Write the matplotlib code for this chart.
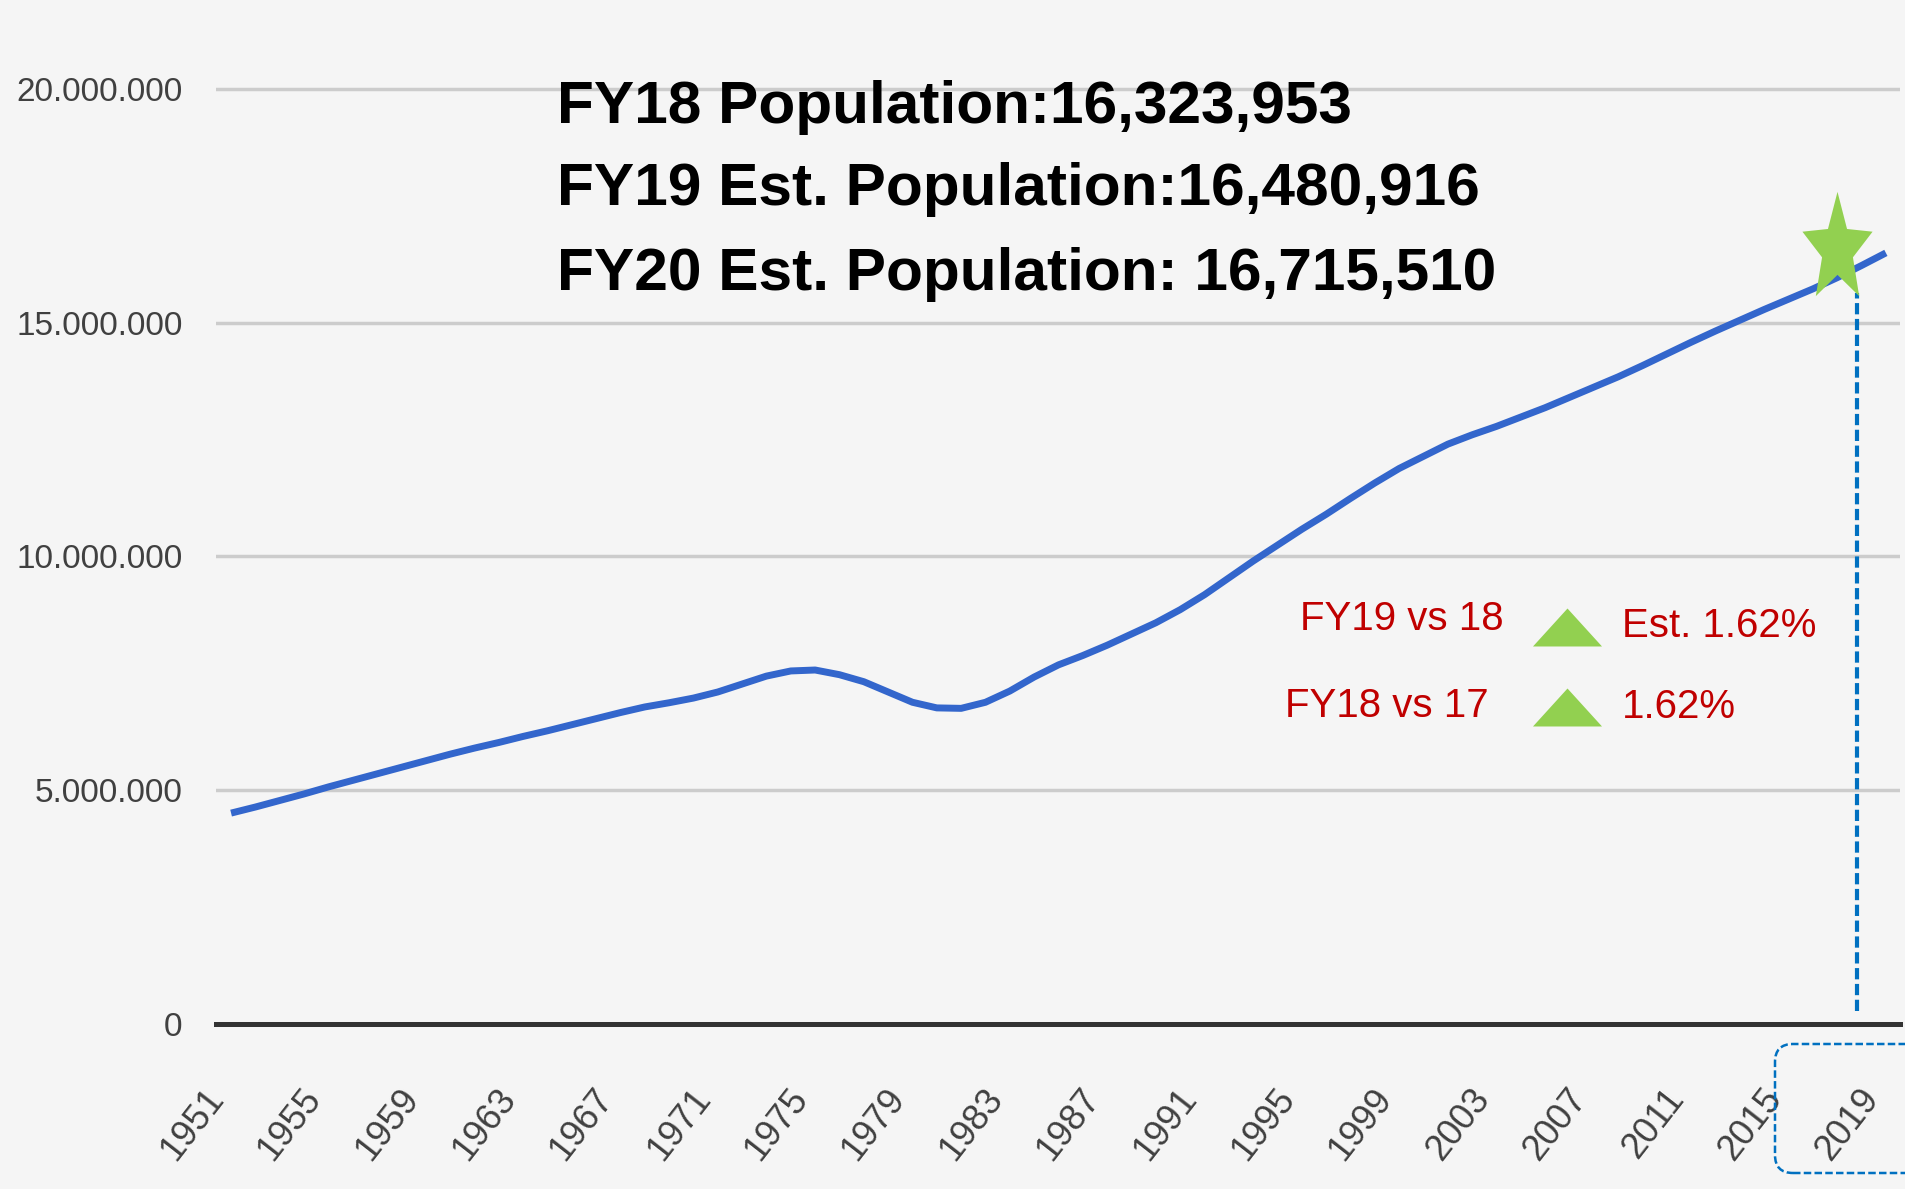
import numpy as np
import matplotlib
matplotlib.use('Agg')
import matplotlib.pyplot as plt
from matplotlib.path import Path
from matplotlib.patches import FancyBboxPatch
from matplotlib.transforms import IdentityTransform

# Population per year
years = list(range(1951, 2020))
population = [
    4.51, 4.64, 4.78, 4.92, 5.07, 5.21, 5.35, 5.49, 5.63, 5.77,
    5.90, 6.02, 6.15, 6.27, 6.40, 6.53, 6.66, 6.78, 6.87, 6.97,
    7.10, 7.27, 7.44, 7.55, 7.57, 7.47, 7.32, 7.10, 6.88, 6.76,
    6.75, 6.88, 7.12, 7.42, 7.68, 7.88, 8.10, 8.34, 8.58, 8.86,
    9.18, 9.54, 9.90, 10.24, 10.58, 10.90, 11.24, 11.57, 11.88, 12.14,
    12.40, 12.60, 12.78, 12.98, 13.18, 13.40, 13.62, 13.84, 14.08, 14.33,
    14.58, 14.82, 15.05, 15.28, 15.50, 15.72, 15.96, 16.22, 16.49,
]
population = [v * 1e6 for v in population]

tick_years = list(range(1951, 2020, 4))
y_ticks = [0, 5e6, 10e6, 15e6, 20e6]
y_labels = ['0', '5.000.000', '10.000.000', '15.000.000', '20.000.000']

headline = [
    'FY18 Population:16,323,953',
    'FY19 Est. Population:16,480,916',
    'FY20 Est. Population: 16,715,510',
]
compare_labels = ['FY19 vs 18', 'FY18 vs 17']
compare_values = ['Est. 1.62%', '1.62%']

star_year, star_value = 2017, 16.58e6
marker_year, marker_top = 2017.8, 15.63e6

W, H = 1905, 1189
BG = '#f5f5f5'
sans = ['Liberation Sans', 'DejaVu Sans']


def fx(x):
    return x / W


def fy(y):
    return 1 - y / H


fig = plt.figure(figsize=(W / 100, H / 100), dpi=100, facecolor=BG)
ax = fig.add_axes([fx(216), fy(1024), fx(1900) - fx(216), fy(42) - fy(1024)])
ax.set_facecolor(BG)

ax.set_ylim(0, 21e6)
ax.set_xlim(1950.38, 2019.58)
for v in y_ticks[1:]:
    ax.axhline(v, color='#cccccc', lw=2.5, zorder=1)
ax.axhline(0, color='#333333', lw=3.6, zorder=2, clip_on=False)

ax.plot(years, population, color='#3366cc', lw=5, solid_capstyle='butt',
        solid_joinstyle='round', zorder=3)

# star marker (squeezed like the source image)
ang_out = np.deg2rad(90 + 72 * np.arange(5))
ang_in = np.deg2rad(126 + 72 * np.arange(5))
pts = []
for a, b in zip(ang_out, ang_in):
    pts.append((np.cos(a) * 0.64, np.sin(a)))
    pts.append((np.cos(b) * 0.44 * 0.64, np.sin(b) * 0.44))
pts.append(pts[0])
star = Path(pts, closed=True)

ax.plot([marker_year, marker_year], [0.28e6, marker_top], color='#0070c0', lw=3,
        dashes=(2.7, 1.1), zorder=4)
ax.plot([star_year], [star_value], marker=star, ms=83, color='#92d050', mec='none',
        zorder=5, clip_on=False)

ax.set_yticks(y_ticks)
ax.set_yticklabels(y_labels, family=sans, fontsize=24, color='#404040')
ax.set_xticks(tick_years)
ax.set_xticklabels([str(y) for y in tick_years], family=sans, fontsize=26,
                   color='#404040', rotation=52, ha='right')
ax.tick_params(axis='y', length=0, pad=24)
ax.tick_params(axis='x', length=0, pad=42)
for s in ax.spines.values():
    s.set_visible(False)

for txt, base in zip(headline, [123, 205, 290]):
    fig.text(fx(557), fy(base), txt, family=sans, weight='bold', fontsize=43.5,
             color='black', va='baseline', ha='left')

for txt, x, base in zip(compare_labels, [1300, 1285], [630, 717]):
    fig.text(fx(x), fy(base), txt, family=sans, fontsize=29,
             color='#c00000', va='baseline', ha='left')
for txt, base in zip(compare_values, [637, 718]):
    fig.text(fx(1622), fy(base), txt, family=sans, fontsize=29,
             color='#c00000', va='baseline', ha='left')

tri = Path([(-1, -0.55), (1, -0.55), (0, 0.55), (-1, -0.55)], closed=True)
for cy in [627, 707]:
    fig.add_artist(plt.Line2D([fx(1567)], [fy(cy)], marker=tri, ms=49.7,
                              color='#92d050', mec='none', transform=fig.transFigure))

box = FancyBboxPatch((1775, H - 1173), 220, 129,
                     boxstyle='round,pad=0,rounding_size=18',
                     transform=IdentityTransform(), fill=False,
                     ec='#0070c0', lw=1.8, ls=(0, (3, 1.3)))
fig.add_artist(box)

fig.savefig('out.png', dpi=100, facecolor=BG)
